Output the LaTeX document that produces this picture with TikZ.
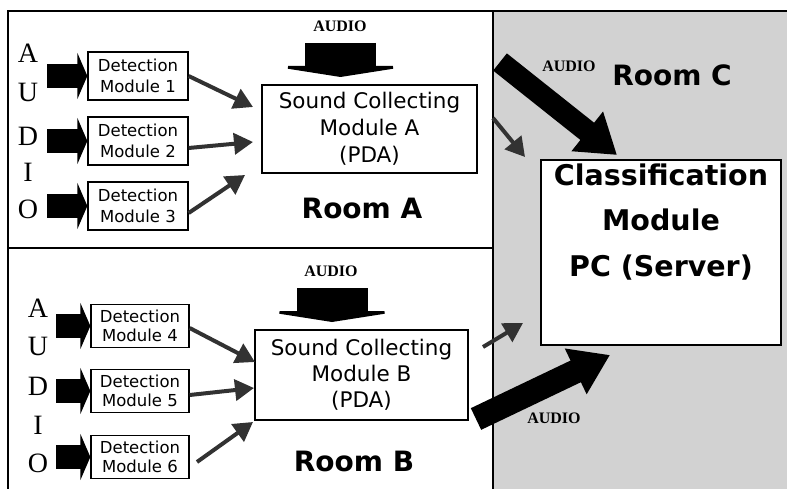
\documentclass[tikz,border=0pt]{standalone}
\usepackage{fontspec}
\setmainfont{DejaVu Sans}
\newfontfamily\serifface{Liberation Serif}
\usetikzlibrary{arrows.meta}
\definecolor{roomcgray}{RGB}{210,210,210}
\definecolor{feedgray}{RGB}{50,50,50}

\begin{document}
\begin{tikzpicture}[x=1pt,y=-1pt,
  box/.style={draw=black,line width=1.3pt,fill=white,inner sep=0pt,align=center},
  detboxA/.style={box,minimum width=100pt,minimum height=48pt,font=\fontsize{16.5}{21}\selectfont},
  detboxB/.style={box,minimum width=98pt,minimum height=43pt,font=\fontsize{16.5}{19}\selectfont},
  scbox/.style={box,font=\fontsize{21.5}{27}\selectfont},
  roomlabel/.style={inner sep=0pt,font=\bfseries\fontsize{28}{28}\selectfont},
  audiolabel/.style={inner sep=0pt,font=\serifface\bfseries\fontsize{16}{16}\selectfont},
  letter/.style={inner sep=0pt,font=\serifface\fontsize{28}{28}\selectfont},
  inarrow/.style={line width=24pt,-{Triangle[length=10pt,width=46pt]}},
  feedarrow/.style={draw=feedgray,line width=4pt,-{Triangle[length=19pt,width=21pt]}},
  bigarrow/.style={line width=22pt,-{Triangle[length=38pt,width=48pt]}},
  downarrow/.style={line width=71pt,-{Triangle[length=11pt,width=140pt]}},
  roomline/.style={line width=1.6pt}
]
\useasboundingbox (0,0) rectangle (787,489);

% Room C background and room borders
\fill[roomcgray] (493,11) rectangle (787,489);
\draw[roomline] (8,489) -- (8,11) -- (787,11);
\draw[roomline] (493,11) -- (493,489);
\draw[roomline] (8,248) -- (493,248);

% Room A
\node[detboxA] (det1) at (138,76)  {Detection\\Module 1};
\node[detboxA] (det2) at (138,141) {Detection\\Module 2};
\node[detboxA] (det3) at (138,206) {Detection\\Module 3};
\node[scbox,minimum width=215pt,minimum height=88pt] (scA) at (369.5,129)
  {Sound Collecting\\Module A\\(PDA)};
\node[roomlabel] (roomA) at (362,208) {Room A};
\node[audiolabel] (audA) at (340,26) {AUDIO};

\node[letter] (a1) at (28,53)  {A};
\node[letter] (a2) at (28,92)  {U};
\node[letter] (a3) at (28,136) {D};
\node[letter] (a4) at (28,172) {I};
\node[letter] (a5) at (28,209) {O};

\draw[inarrow] ([xshift=-40pt]det1.west) -- (det1.west);
\draw[inarrow] ([xshift=-40pt]det2.west) -- (det2.west);
\draw[inarrow] ([xshift=-40pt]det3.west) -- (det3.west);

\coordinate (downAtop) at (340.5,43);
\coordinate (downAtip) at (340.5,77);
\draw[downarrow] (downAtop) -- (downAtip);

\coordinate (fA1) at (253,107);
\coordinate (fA2) at (253,142);
\coordinate (fA3) at (245,175);
\draw[feedarrow] (det1.east) -- (fA1);
\draw[feedarrow] ([yshift=-7pt]det2.east) -- (fA2);
\draw[feedarrow] ([yshift=-7pt]det3.east) -- (fA3);

% Room B
\node[detboxB] (det4) at (140,326) {Detection\\Module 4};
\node[detboxB] (det5) at (140,391) {Detection\\Module 5};
\node[detboxB] (det6) at (140,457) {Detection\\Module 6};
\node[scbox,minimum width=213pt,minimum height=90pt,font=\fontsize{21.5}{26}\selectfont] (scB) at (361.5,375)
  {Sound Collecting\\Module B\\(PDA)};
\node[roomlabel] (roomB) at (354,461) {Room B};
\node[audiolabel] (audB) at (331,271) {AUDIO};

\node[letter] (b1) at (38,308) {A};
\node[letter] (b2) at (38,346) {U};
\node[letter] (b3) at (38,386) {D};
\node[letter] (b4) at (38,425) {I};
\node[letter] (b5) at (38,463) {O};

\draw[inarrow] ([xshift=-34pt]det4.west) -- (det4.west);
\draw[inarrow] ([xshift=-34pt]det5.west) -- (det5.west);
\draw[inarrow] ([xshift=-34pt]det6.west) -- (det6.west);

\coordinate (downBtop) at (332,288);
\coordinate (downBtip) at (332,322);
\draw[downarrow] (downBtop) -- (downBtip);

\coordinate (fB1) at (255,362);
\coordinate (fB2) at (254,388);
\coordinate (fB3) at (253,422);
\coordinate (fB3tail) at (197,462);
\draw[feedarrow] ([yshift=-2pt]det4.east) -- (fB1);
\draw[feedarrow] ([yshift=-4pt]det5.east) -- (fB2);
\draw[feedarrow] (fB3tail) -- (fB3);

% Room C
\node[box,minimum width=240pt,minimum height=185pt] (cls) at (661,252.5) {};
\node[inner sep=0pt,align=center,font=\bfseries\fontsize{28.5}{45.5}\selectfont] (clstext) at (661,222)
  {Classification\\Module\\PC (Server)};
\node[roomlabel] (roomC) at (672,75) {Room C};
\node[audiolabel] (audC1) at (569,66) {AUDIO};
\node[audiolabel] (audC2) at (554,418) {AUDIO};

% links into the classification module
\coordinate (bigAtail) at (500,62);
\coordinate (bigAtip) at (617,155);
\draw[bigarrow] (bigAtail) -- (bigAtip);
\coordinate (bigBtail) at (476,419);
\coordinate (bigBtip) at (610,355);
\draw[bigarrow,line width=24pt] (bigBtail) -- (bigBtip);

\coordinate (smallAtail) at (493,118);
\coordinate (smallAtip) at (525,157);
\draw[feedarrow] (smallAtail) -- (smallAtip);
\coordinate (smallBtail) at (483,347);
\coordinate (smallBtip) at (523,323);
\draw[feedarrow] (smallBtail) -- (smallBtip);
\end{tikzpicture}
\end{document}
